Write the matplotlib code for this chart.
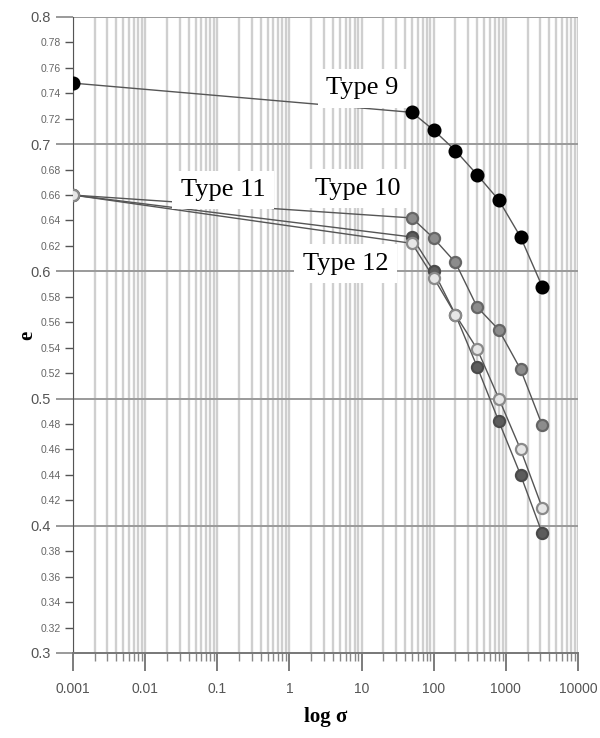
import numpy as np
import matplotlib.pyplot as plt

# Void ratio e against vertical stress (log scale) for the four soil types
stress = [0.001, 50, 100, 200, 400, 800, 1600, 3200]
e_type9 = [0.748, 0.725, 0.711, 0.695, 0.676, 0.656, 0.627, 0.588]
e_type10 = [0.660, 0.642, 0.626, 0.607, 0.572, 0.554, 0.523, 0.479]
e_type11 = [0.660, 0.627, 0.600, 0.566, 0.525, 0.482, 0.440, 0.394]
e_type12 = [0.660, 0.622, 0.595, 0.566, 0.539, 0.500, 0.460, 0.414]

x_labels = ['0.001', '0.01', '0.1', '1', '10', '100', '1000', '10000']
y_major = [0.3, 0.4, 0.5, 0.6, 0.7, 0.8]
y_minor = [v for v in np.round(np.arange(0.32, 0.8, 0.02), 2)
           if round(v * 10, 6) != round(v * 10)]

fig = plt.figure(figsize=(6, 7.38), dpi=100)
ax = fig.add_axes([0.1217, 0.1152, 0.8416, 0.8618])
ax.set_xscale('log')
ax.set_xlim(0.001, 10000)
ax.set_ylim(0.3, 0.8)

# vertical grid: one light line for every 1..9 x decade
decades = [10.0 ** k for k in range(-3, 4)]
for d in decades:
    for k in range(1, 10):
        ax.axvline(d * k, color='#cfcfcf', lw=1.7, zorder=0)
ax.axvline(10000, color='#cfcfcf', lw=1.7, zorder=0)
for v in y_major[1:]:
    ax.axhline(v, color='#9a9a9a', lw=1.4, zorder=1)

ax.set_xticks([10.0 ** k for k in range(-3, 5)], labels=x_labels)
ax.set_xticks([d * k for d in decades for k in range(2, 10)], minor=True)
ax.xaxis.set_minor_formatter(plt.NullFormatter())
ax.set_yticks(y_major, labels=[f'{v:g}' for v in y_major])
ax.set_yticks(y_minor, labels=[f'{v:g}' for v in y_minor], minor=True)

ax.tick_params(axis='x', which='major', length=13, width=1.2, color='#666666',
               pad=8, labelsize=10, labelcolor='#555555')
ax.tick_params(axis='x', which='minor', length=6, width=1, color='#888888')
ax.tick_params(axis='y', which='major', length=12, width=1.4, color='#9a9a9a',
               pad=4, labelsize=10.5, labelcolor='#555555')
ax.tick_params(axis='y', which='minor', length=6, width=1, color='#555555',
               pad=3, labelsize=7.5, labelcolor='#666666')
for lab in ax.get_xticklabels() + ax.get_yticklabels(which='both'):
    lab.set_family('Liberation Sans')

for side in ['top', 'right']:
    ax.spines[side].set_visible(False)
ax.spines['left'].set_color('#555555')
ax.spines['bottom'].set_color('#777777')
ax.spines['bottom'].set_linewidth(1.4)

series = [
    (e_type9, '#000000', '#000000', 8.5),
    (e_type10, '#8c8c8c', '#666666', 8),
    (e_type11, '#5c5c5c', '#4a4a4a', 8),
    (e_type12, '#e6e6e6', '#8a8a8a', 8),
]
for vals, face, edge, ms in series:
    ax.plot(stress, vals, color='#555555', lw=1.0, zorder=2)
    ax.plot(stress, vals, ls='none', marker='o', ms=ms, mfc=face, mec=edge,
            mew=1.6, zorder=5)

box = dict(facecolor='white', edgecolor='none', pad=6)
label_kw = dict(family='Liberation Serif', fontsize=19, ha='center',
                va='center', bbox=box, zorder=3)
ax.text(10.3, 0.744, 'Type 9', **label_kw)
ax.text(0.12, 0.664, 'Type 11', **label_kw)
ax.text(8.8, 0.665, 'Type 10', **label_kw)
ax.text(6.0, 0.606, 'Type 12', **label_kw)

ax.set_xlabel('log σ', family='Liberation Serif', fontweight='bold',
              fontsize=15, labelpad=8)
ax.set_ylabel('e', family='Liberation Serif', fontweight='bold', fontsize=15)
ax.yaxis.set_label_coords(-0.07, 0.5)

fig.savefig('out.png', dpi=100)
